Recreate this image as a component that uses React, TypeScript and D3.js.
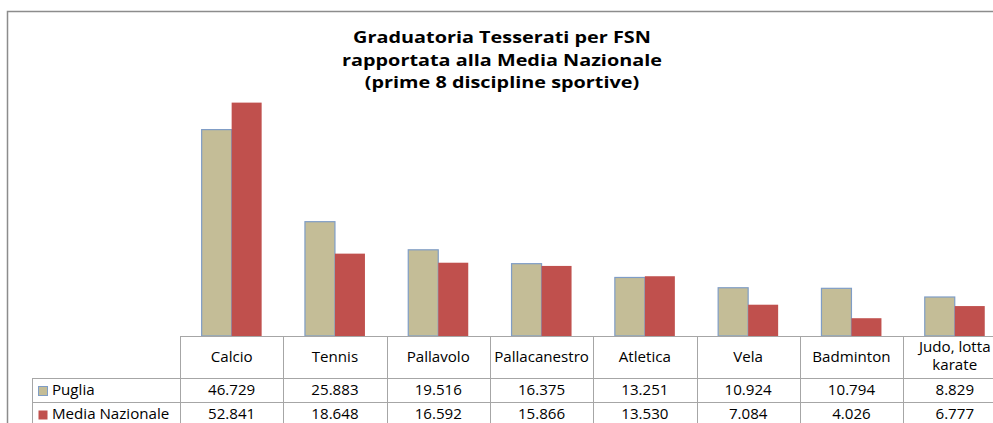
import React from "react";
import * as d3 from "d3";

const categories = [
  "Calcio",
  "Tennis",
  "Pallavolo",
  "Pallacanestro",
  "Atletica",
  "Vela",
  "Badminton",
  "Judo, lotta karate",
];
const pugliaValues = [46729, 25883, 19516, 16375, 13251, 10924, 10794, 8829];
const mediaValues = [52841, 18648, 16592, 15866, 13530, 7084, 4026, 6777];
const seriesNames = ["Puglia", "Media Nazionale"];
const titleLines = [
  "Graduatoria Tesserati per FSN",
  "rapportata alla Media Nazionale",
  "(prime 8 discipline sportive)",
];

const width = 993;
const height = 423;
const baseline = 336;
const tableLeft = 180;
const colW = 103.3;
const legendLeft = 32;
const rowTops = [336, 378, 402, 426];
const colors = ["#c4bd97", "#c0504d"];
const pugliaStroke = "#7f9dc6";
const gridColor = "#a6a6a6";
const font = "'Open Sans', sans-serif";
const tableStretch = 1.08;
const titleStretch = 1.24;

const itLocale = d3.formatLocale({
  decimal: ",",
  thousands: ".",
  grouping: [3],
  currency: ["€", ""],
});
const fmt = itLocale.format(",.0f");

// text a bit wider than the font gives, like the reference
const Txt = ({ x, y, sx, children, ...rest }: any) => (
  <text transform={`translate(${x},${y}) scale(${sx},1)`} {...rest}>
    {children}
  </text>
);

export default function App() {
  const x = d3
    .scaleBand<string>()
    .domain(categories)
    .range([tableLeft, tableLeft + colW * categories.length]);
  const y = d3.scaleLinear().domain([0, 60000]).range([baseline, 71]);
  const groupW = 60;
  const xs = d3.scaleBand<string>().domain(seriesNames).range([0, groupW]);

  const series = [pugliaValues, mediaValues];
  const tableRight = tableLeft + colW * categories.length;

  return (
    <svg
      width={width}
      height={height}
      style={{ position: "absolute", left: 0, top: 0, background: "#fff" }}
      fontFamily={font}
    >
      {/* outer chart frame (cropped) */}
      <path d={`M7.5,${height} V11.5 H${width + 5}`} fill="none" stroke="#8c8c8c" strokeWidth={1.5} />

      {/* title */}
      <g textAnchor="middle" fontWeight={700} fontSize={16} fill="#000">
        {titleLines.map((t, i) => (
          <Txt key={i} x={502} y={43 + i * 22.5} sx={titleStretch}>
            {t}
          </Txt>
        ))}
      </g>

      {/* bars */}
      {series.map((vals, si) =>
        vals.map((v, ci) => {
          const bx = x(categories[ci])! + (x.bandwidth() - groupW) / 2 + xs(seriesNames[si])!;
          const by = y(v);
          return (
            <rect
              key={`${si}-${ci}`}
              x={bx}
              y={by}
              width={xs.bandwidth()}
              height={baseline - by}
              fill={colors[si]}
              stroke={si === 0 ? pugliaStroke : "none"}
              strokeWidth={si === 0 ? 1.2 : 0}
            />
          );
        })
      )}

      {/* data table */}
      <g stroke={gridColor} strokeWidth={1} fill="none">
        <line x1={tableLeft} x2={tableRight} y1={rowTops[0] + 0.5} y2={rowTops[0] + 0.5} />
        <line x1={legendLeft} x2={tableRight} y1={rowTops[1] + 0.5} y2={rowTops[1] + 0.5} />
        <line x1={legendLeft} x2={tableRight} y1={rowTops[2] + 0.5} y2={rowTops[2] + 0.5} />
        <line x1={legendLeft + 0.5} x2={legendLeft + 0.5} y1={rowTops[1]} y2={height} />
        {d3.range(categories.length + 1).map((i) => {
          const lx = Math.round(tableLeft + colW * i) + 0.5;
          return <line key={i} x1={lx} x2={lx} y1={rowTops[0]} y2={height} />;
        })}
      </g>

      <g fontSize={14} fill="#000" textAnchor="middle">
        {categories.map((c) => {
          const cx = x(c)! + x.bandwidth() / 2;
          const words = c === "Judo, lotta karate" ? ["Judo, lotta", "karate"] : [c];
          return words.map((w, i) => (
            <Txt
              key={c + i}
              x={cx}
              y={words.length === 1 ? 362 : 352 + i * 18}
              sx={tableStretch}
            >
              {w}
            </Txt>
          ));
        })}
        {series.map((vals, si) =>
          vals.map((v, ci) => (
            <Txt
              key={`${si}-${ci}`}
              x={x(categories[ci])! + x.bandwidth() / 2}
              y={rowTops[si + 1] + 17}
              sx={tableStretch}
            >
              {fmt(v)}
            </Txt>
          ))
        )}
      </g>

      {/* legend keys in table */}
      {seriesNames.map((s, si) => (
        <g key={s}>
          <rect
            x={38.5}
            y={rowTops[si + 1] + 8.5}
            width={9}
            height={9}
            fill={colors[si]}
            stroke={si === 0 ? pugliaStroke : "none"}
            strokeWidth={1}
          />
          <Txt x={52} y={rowTops[si + 1] + 17} sx={tableStretch} fontSize={14} fill="#000">
            {s}
          </Txt>
        </g>
      ))}
    </svg>
  );
}
